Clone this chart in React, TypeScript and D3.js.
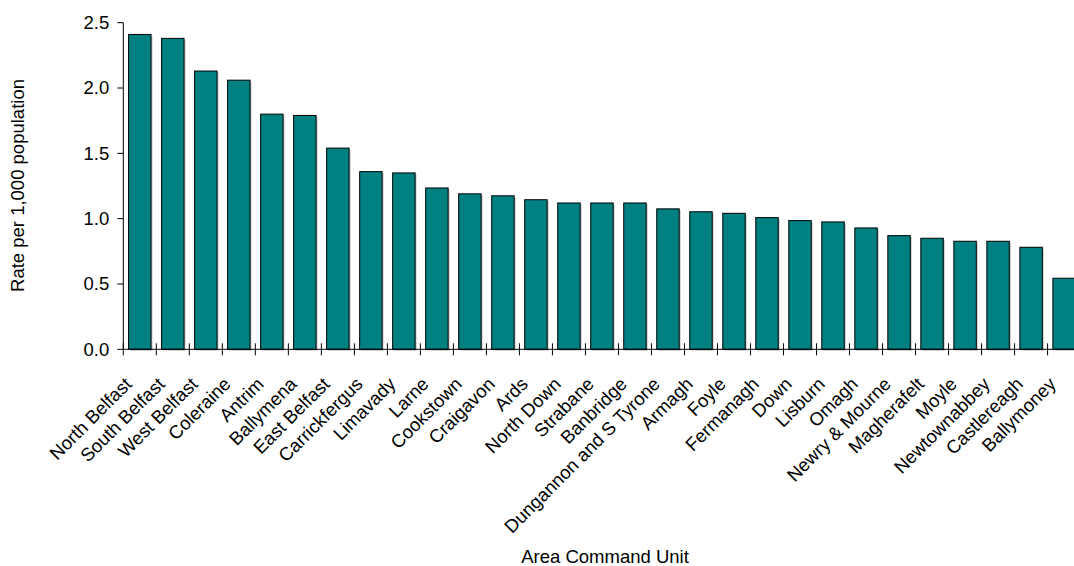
import React from "react";
import * as d3 from "d3";

const categories = [
  "North Belfast", "South Belfast", "West Belfast", "Coleraine", "Antrim", "Ballymena",
  "East Belfast", "Carrickfergus", "Limavady", "Larne", "Cookstown", "Craigavon", "Ards",
  "North Down", "Strabane", "Banbridge", "Dungannon and S Tyrone", "Armagh", "Foyle",
  "Fermanagh", "Down", "Lisburn", "Omagh", "Newry & Mourne", "Magherafelt", "Moyle",
  "Newtownabbey", "Castlereagh", "Ballymoney",
];
const values = [
  2.41, 2.38, 2.13, 2.06, 1.80, 1.79, 1.54, 1.36, 1.35, 1.235, 1.19, 1.175, 1.145,
  1.12, 1.12, 1.12, 1.075, 1.053, 1.041, 1.008, 0.985, 0.975, 0.929, 0.87, 0.85,
  0.827, 0.827, 0.781, 0.544,
];
const yTicks = [0, 0.5, 1.0, 1.5, 2.0, 2.5];
const yTitle = "Rate per 1,000 population";
const xTitle = "Area Command Unit";

export default function App() {
  const W = 1074, H = 566;
  const x0 = 123.3, x1 = 1080.6, yTop = 22.7, yBot = 349.3;
  const x = d3.scaleBand<string>().domain(categories).range([x0, x1]).paddingInner(0.32).paddingOuter(0.16);
  const xb = d3.scaleBand<string>().domain(categories).range([x0, x1]);
  const y = d3.scaleLinear().domain([0, 2.5]).range([yBot, yTop]);
  const font = "'Liberation Sans', Arial, sans-serif";
  const fs = 18.5;
  return (
    <svg width={W} height={H} style={{ position: "absolute", left: 0, top: 0, background: "#fff" }}>
      {categories.map((c, i) => (
        <g key={c}>
          <rect x={(x(c) as number) + 1.5} y={y(values[i]) + 1.5} width={x.bandwidth()} height={yBot - y(values[i])} fill="#c8c8c8" />
          <rect x={x(c)} y={y(values[i])} width={x.bandwidth()} height={yBot - y(values[i])} fill="#008080" stroke="#000" strokeWidth={1} />
        </g>
      ))}
      {/* y axis */}
      <line x1={x0} x2={x0} y1={yTop} y2={yBot} stroke="#000" />
      {yTicks.map((t) => (
        <g key={t}>
          <line x1={x0 - 6} x2={x0} y1={y(t)} y2={y(t)} stroke="#000" />
          <text x={x0 - 14} y={y(t)} dy="0.35em" textAnchor="end" fontFamily={font} fontSize={fs} fill="#000">
            {t.toFixed(1)}
          </text>
        </g>
      ))}
      {/* x axis */}
      <line x1={x0} x2={W} y1={yBot} y2={yBot} stroke="#000" />
      {categories.map((c) => (
        <line key={"t" + c} x1={xb(c)} x2={xb(c)} y1={yBot - 6} y2={yBot + 6} stroke="#000" />
      ))}
      {categories.map((c) => {
        const cx = (xb(c) as number) + xb.bandwidth() / 2;
        return (
          <text key={"l" + c} transform={`translate(${cx - 7},${yBot + 36}) rotate(-45)`} textAnchor="end" fontFamily={font} fontSize={fs} fill="#000">
            {c}
          </text>
        );
      })}
      <text x={605} y={563} textAnchor="middle" fontFamily={font} fontSize={fs} fill="#000">{xTitle}</text>
      <text transform={`translate(24,185.5) rotate(-90)`} textAnchor="middle" fontFamily={font} fontSize={fs} fill="#000">{yTitle}</text>
    </svg>
  );
}
